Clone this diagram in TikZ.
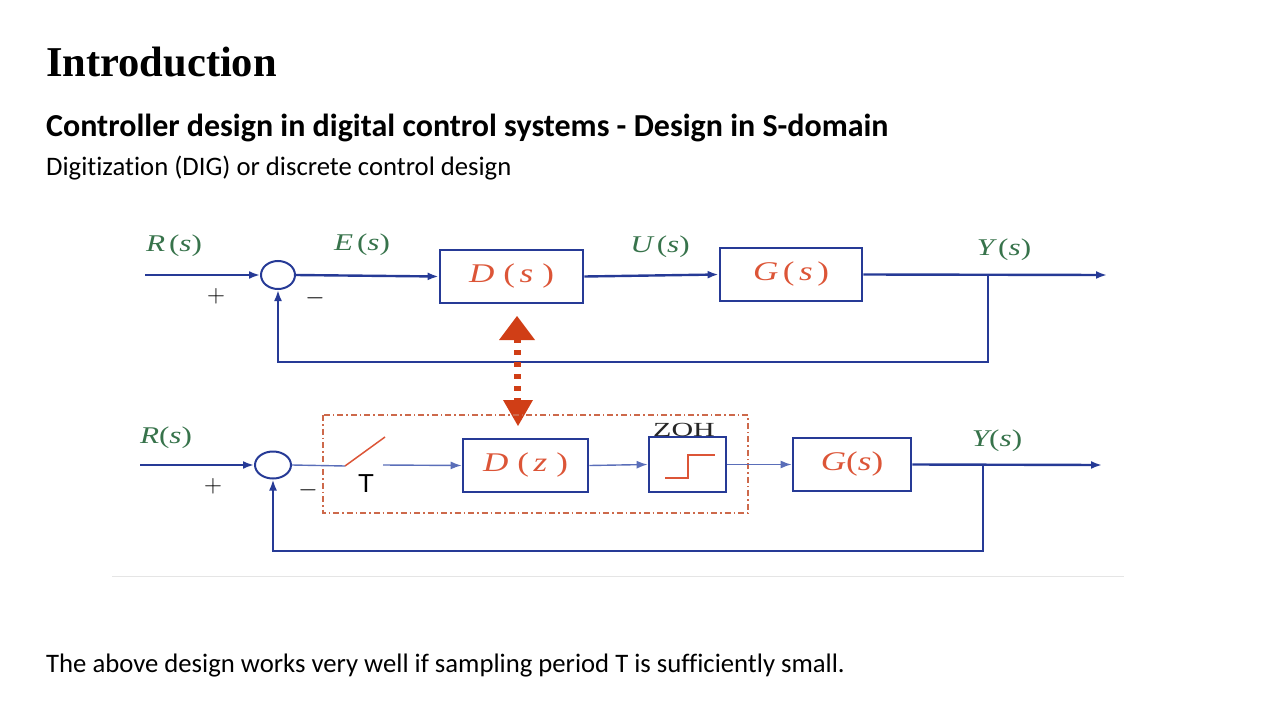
\documentclass[tikz,border=0pt]{standalone}
\usepackage{fontspec}
\setmainfont[Ligatures=NoCommon]{Carlito}
\newfontfamily\ttl{Liberation Serif}
\newfontfamily\dgm[FakeStretch=1.3]{Liberation Serif}
\newfontfamily\zohf[FakeStretch=1.5]{Liberation Serif}
\newfontfamily\arl{Liberation Sans}
\usetikzlibrary{arrows.meta,shapes.geometric}

\definecolor{lineblue}{RGB}{38,58,150}
\definecolor{thinblue}{RGB}{90,110,185}
\definecolor{sgreen}{RGB}{55,115,75}
\definecolor{bred}{RGB}{220,85,55}
\definecolor{arrred}{RGB}{208,62,22}
\definecolor{ddred}{RGB}{205,105,75}

\begin{document}
\begin{tikzpicture}[x=1pt,y=-1pt,
		>={Latex[length=11pt,width=8pt]},
		main/.style={draw=lineblue,line width=2.4pt},
		thin/.style={draw=thinblue,line width=1.4pt},
		blk/.style={draw=lineblue,line width=2.8pt,inner sep=0pt,text=bred,font=\dgm\fontsize{27}{27}\selectfont\itshape},
		sum/.style={ellipse,draw=lineblue,line width=2pt,inner sep=0pt},
		sig/.style={text=sgreen,font=\dgm\fontsize{24}{24}\selectfont\itshape},
		sgn/.style={font=\fontsize{26}{26}\selectfont}]
		\useasboundingbox (0,0) rectangle (1280,720);
		% texts of the slide
		\node[anchor=base west,inner sep=0pt,font=\ttl\bfseries\fontsize{42.5}{42.5}\selectfont] (title) at (46,76) {Introduction};
		\node[anchor=base west,inner sep=0pt,font=\bfseries\fontsize{32}{32}\selectfont] (sub) at (46,136) {Controller design in digital control systems - Design in S-domain};
		\node[anchor=base west,inner sep=0pt,font=\fontsize{26.7}{26.7}\selectfont] (dig) at (46,175) {Digitization (DIG) or discrete control design};
		\node[anchor=base west,inner sep=0pt,font=\fontsize{26.7}{26.7}\selectfont] (note) at (46,672) {The above design works very well if sampling period T is sufficiently small.};
		\draw[black!10,line width=0.8pt] (112,576) -- (1124,576);

		% continuous loop
		\coordinate (inA) at (145,275);
		\coordinate (outA) at (1107,275);
		\coordinate (brA) at (988,275);
		\node[sum,minimum width=34pt,minimum height=28pt] (sumA) at (278,275) {};
		\node[blk,minimum width=143pt,minimum height=53pt] (Ds) at (511.5,276.5) {D\,\,{\upshape(}\,s\,\,{\upshape)}};
		\node[blk,minimum width=142pt,minimum height=53pt] (Gs) at (791,274.5) {G\,{\upshape(}\,s\,{\upshape)}};
		\node[sig] (lRa) at (174,246) {R\,{\upshape(}s{\upshape)}};
		\node[sig] (lEa) at (362,245) {E\,{\upshape(}s{\upshape)}};
		\node[sig] (lUa) at (660,247) {U\,{\upshape(}s{\upshape)}};
		\node[sig] (lYa) at (1004,250) {Y\,{\upshape(}s{\upshape)}};
		\node[sgn] (pA) at (216,296) {$+$};
		\node[sgn] (mA) at (315,298) {$-$};
		\draw[main,->] (inA) -- (sumA.west);
		\draw[main,->] (sumA.east) -- (Ds.west);
		\draw[main,->] (Ds.east) -- (Gs.west);
		\draw[main,->] (Gs.east) -- (outA);
		\draw[main,->] (brA) -- ++(0,87) -| (sumA.south);

		% red double arrow
		\draw[arrred,line width=7pt,dash pattern=on 5pt off 7pt,dash phase=2pt] (517,340) -- (517,401);
		\fill[arrred] (517,316) -- (535,340) -- (499,340) -- cycle;
		\fill[arrred] (503,400) -- (533,400) -- (518,426) -- cycle;

		% sampled loop
		\draw[ddred,line width=1.2pt,dash pattern=on 6pt off 3pt on 1.5pt off 3pt] (323,415) rectangle (748,513);
		\coordinate (inB) at (140,465);
		\coordinate (outB) at (1102,465);
		\coordinate (brB) at (983,465);
		\coordinate (swA) at (345,466);
		\coordinate (swB) at (385,437);
		\coordinate (swC) at (383,465);
		\node[sum,minimum width=36pt,minimum height=27pt] (sumB) at (273,465) {};
		\node[blk,minimum width=125pt,minimum height=53pt] (Dz) at (525.5,465.5) {D\,\,{\upshape(}\,z\,\,{\upshape)}};
		\node[blk,minimum width=77pt,minimum height=55pt] (zoh) at (687.5,464.5) {};
		\node[blk,minimum width=118pt,minimum height=53pt] (Gz) at (852,464.5) {G{\upshape(}s{\upshape)}};
		\node[anchor=base,inner sep=0pt,text=black!85,font=\zohf\fontsize{20}{20}\selectfont] (lZ) at (684,436) {ZOH};
		\node[sig] (lRb) at (166,438) {R{\upshape(}s{\upshape)}};
		\node[sig] (lYb) at (997,441) {Y{\upshape(}s{\upshape)}};
		\node[font=\arl\fontsize{26}{26}\selectfont] (lT) at (366,484) {T};
		\node[sgn] (pB) at (213,486) {$+$};
		\node[sgn] (mB) at (308,490) {$-$};
		\draw[main,->] (inB) -- (sumB.west);
		\draw[thin] (sumB.east) -- (swA);
		\draw[bred,line width=1.5pt] (swA) -- (swB);
		\draw[thin,->] (swC) -- (Dz.west);
		\draw[thin,->] (Dz.east) -- (zoh.west);
		\draw[thin,->] (zoh.east) -- (Gz.west);
		\draw[bred,line width=1.4pt] (665,478) -- (688,478) -- (688,455) -- (715,455);
		\draw[main,->] (Gz.east) -- (outB);
		\draw[main,->] (brB) -- ++(0,86) -| (sumB.south);
	\end{tikzpicture}
\end{document}
